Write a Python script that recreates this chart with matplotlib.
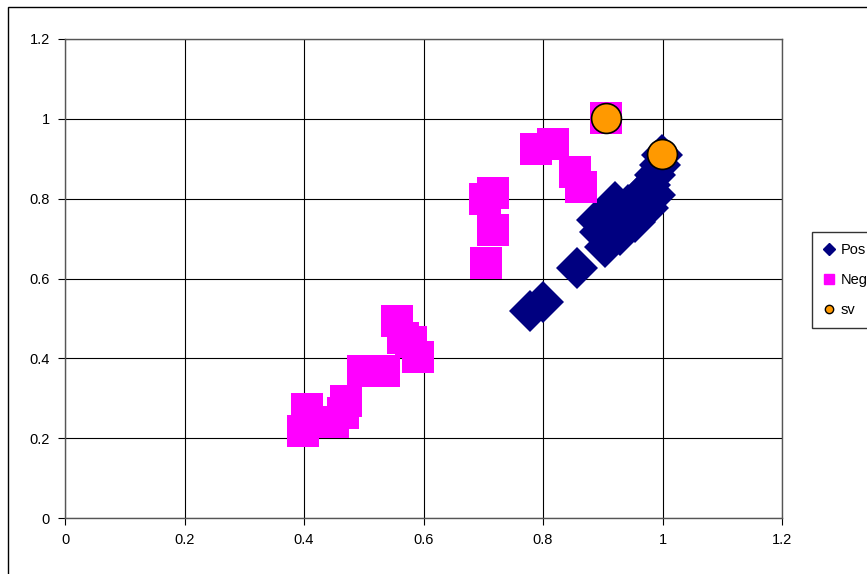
import matplotlib
matplotlib.use("Agg")
import matplotlib.pyplot as plt
from matplotlib.patches import Rectangle
from matplotlib.lines import Line2D

plt.rcParams['font.family'] = ['Liberation Sans', 'DejaVu Sans']

# Data
pos_x = [0.778, 0.800, 0.857, 0.890, 0.904, 0.915, 0.921, 0.932, 0.942, 0.954,
         0.962, 0.971, 0.979, 0.987, 0.996, 0.999, 0.895, 0.929, 0.954, 0.976,
         0.987, 0.921]
pos_y = [0.519, 0.541, 0.626, 0.746, 0.679, 0.709, 0.759, 0.741, 0.784, 0.772,
         0.809, 0.797, 0.834, 0.859, 0.884, 0.909, 0.716, 0.709, 0.741, 0.777,
         0.809, 0.792]

neg_x = [0.398, 0.405, 0.449, 0.465, 0.470, 0.499, 0.534, 0.556, 0.566, 0.579,
         0.591, 0.705, 0.703, 0.716, 0.716, 0.788, 0.817, 0.854, 0.863, 0.905]
neg_y = [0.218, 0.273, 0.240, 0.263, 0.293, 0.368, 0.368, 0.493, 0.450, 0.441,
         0.403, 0.639, 0.800, 0.814, 0.721, 0.924, 0.937, 0.867, 0.829, 1.002]

sv_x = [0.905, 0.999]
sv_y = [1.002, 0.912]

x_ticks = [0, 0.2, 0.4, 0.6, 0.8, 1, 1.2]
y_ticks = [0, 0.2, 0.4, 0.6, 0.8, 1, 1.2]
tick_labels = ['0', '0.2', '0.4', '0.6', '0.8', '1', '1.2']

W, H = 867, 574
fig = plt.figure(figsize=(W / 100, H / 100), dpi=100)
fig.patch.set_facecolor('white')

# outer chart border (cut off on the right/bottom)
fig.patches.append(Rectangle((8 / W, -0.05), 1.2, 1 - 7 / H + 0.05, transform=fig.transFigure,
                             fill=False, edgecolor='black', linewidth=1.0))

ax = fig.add_axes([65 / W, 1 - 518 / H, (782 - 65) / W, (518 - 39) / H])
ax.set_xlim(0, 1.2)
ax.set_ylim(0, 1.2)
ax.set_xticks(x_ticks)
ax.set_yticks(y_ticks)
ax.set_xticklabels(tick_labels)
ax.set_yticklabels(tick_labels)
ax.grid(True, color='black', linewidth=0.8)
ax.set_axisbelow(True)
for s in ax.spines.values():
    s.set_color('#555555')
    s.set_linewidth(1.0)
ax.tick_params(direction='out', length=5, width=0.8, color='black',
               labelsize=10.5, pad=6)

ax.plot(pos_x, pos_y, 'D', color='#000080', markersize=21, markeredgewidth=0,
        label='Pos', clip_on=False)
ax.plot(neg_x, neg_y, 's', color='#FF00FF', markersize=23, markeredgewidth=0,
        label='Neg', clip_on=False)
ax.plot(sv_x, sv_y, 'o', color='#FF9900', markersize=21.5, markeredgecolor='black',
        markeredgewidth=1.2, label='sv', clip_on=False)

# legend with small markers
handles = [
    Line2D([], [], marker='D', color='#000080', linestyle='none', markersize=6),
    Line2D([], [], marker='s', color='#FF00FF', linestyle='none', markersize=7),
    Line2D([], [], marker='o', color='#FF9900', markeredgecolor='black',
           linestyle='none', markersize=6),
]
leg = fig.legend(handles, ['Pos', 'Neg', 'sv'], loc='upper left',
                 bbox_to_anchor=(812 / W, 1 - 232 / H), frameon=True, fancybox=False,
                 edgecolor='black', fontsize=10.5, handlelength=0.8,
                 handletextpad=0.4, borderpad=0.75, labelspacing=1.1, borderaxespad=0)
leg.get_frame().set_linewidth(1.0)

fig.savefig('out.png', dpi=100)
